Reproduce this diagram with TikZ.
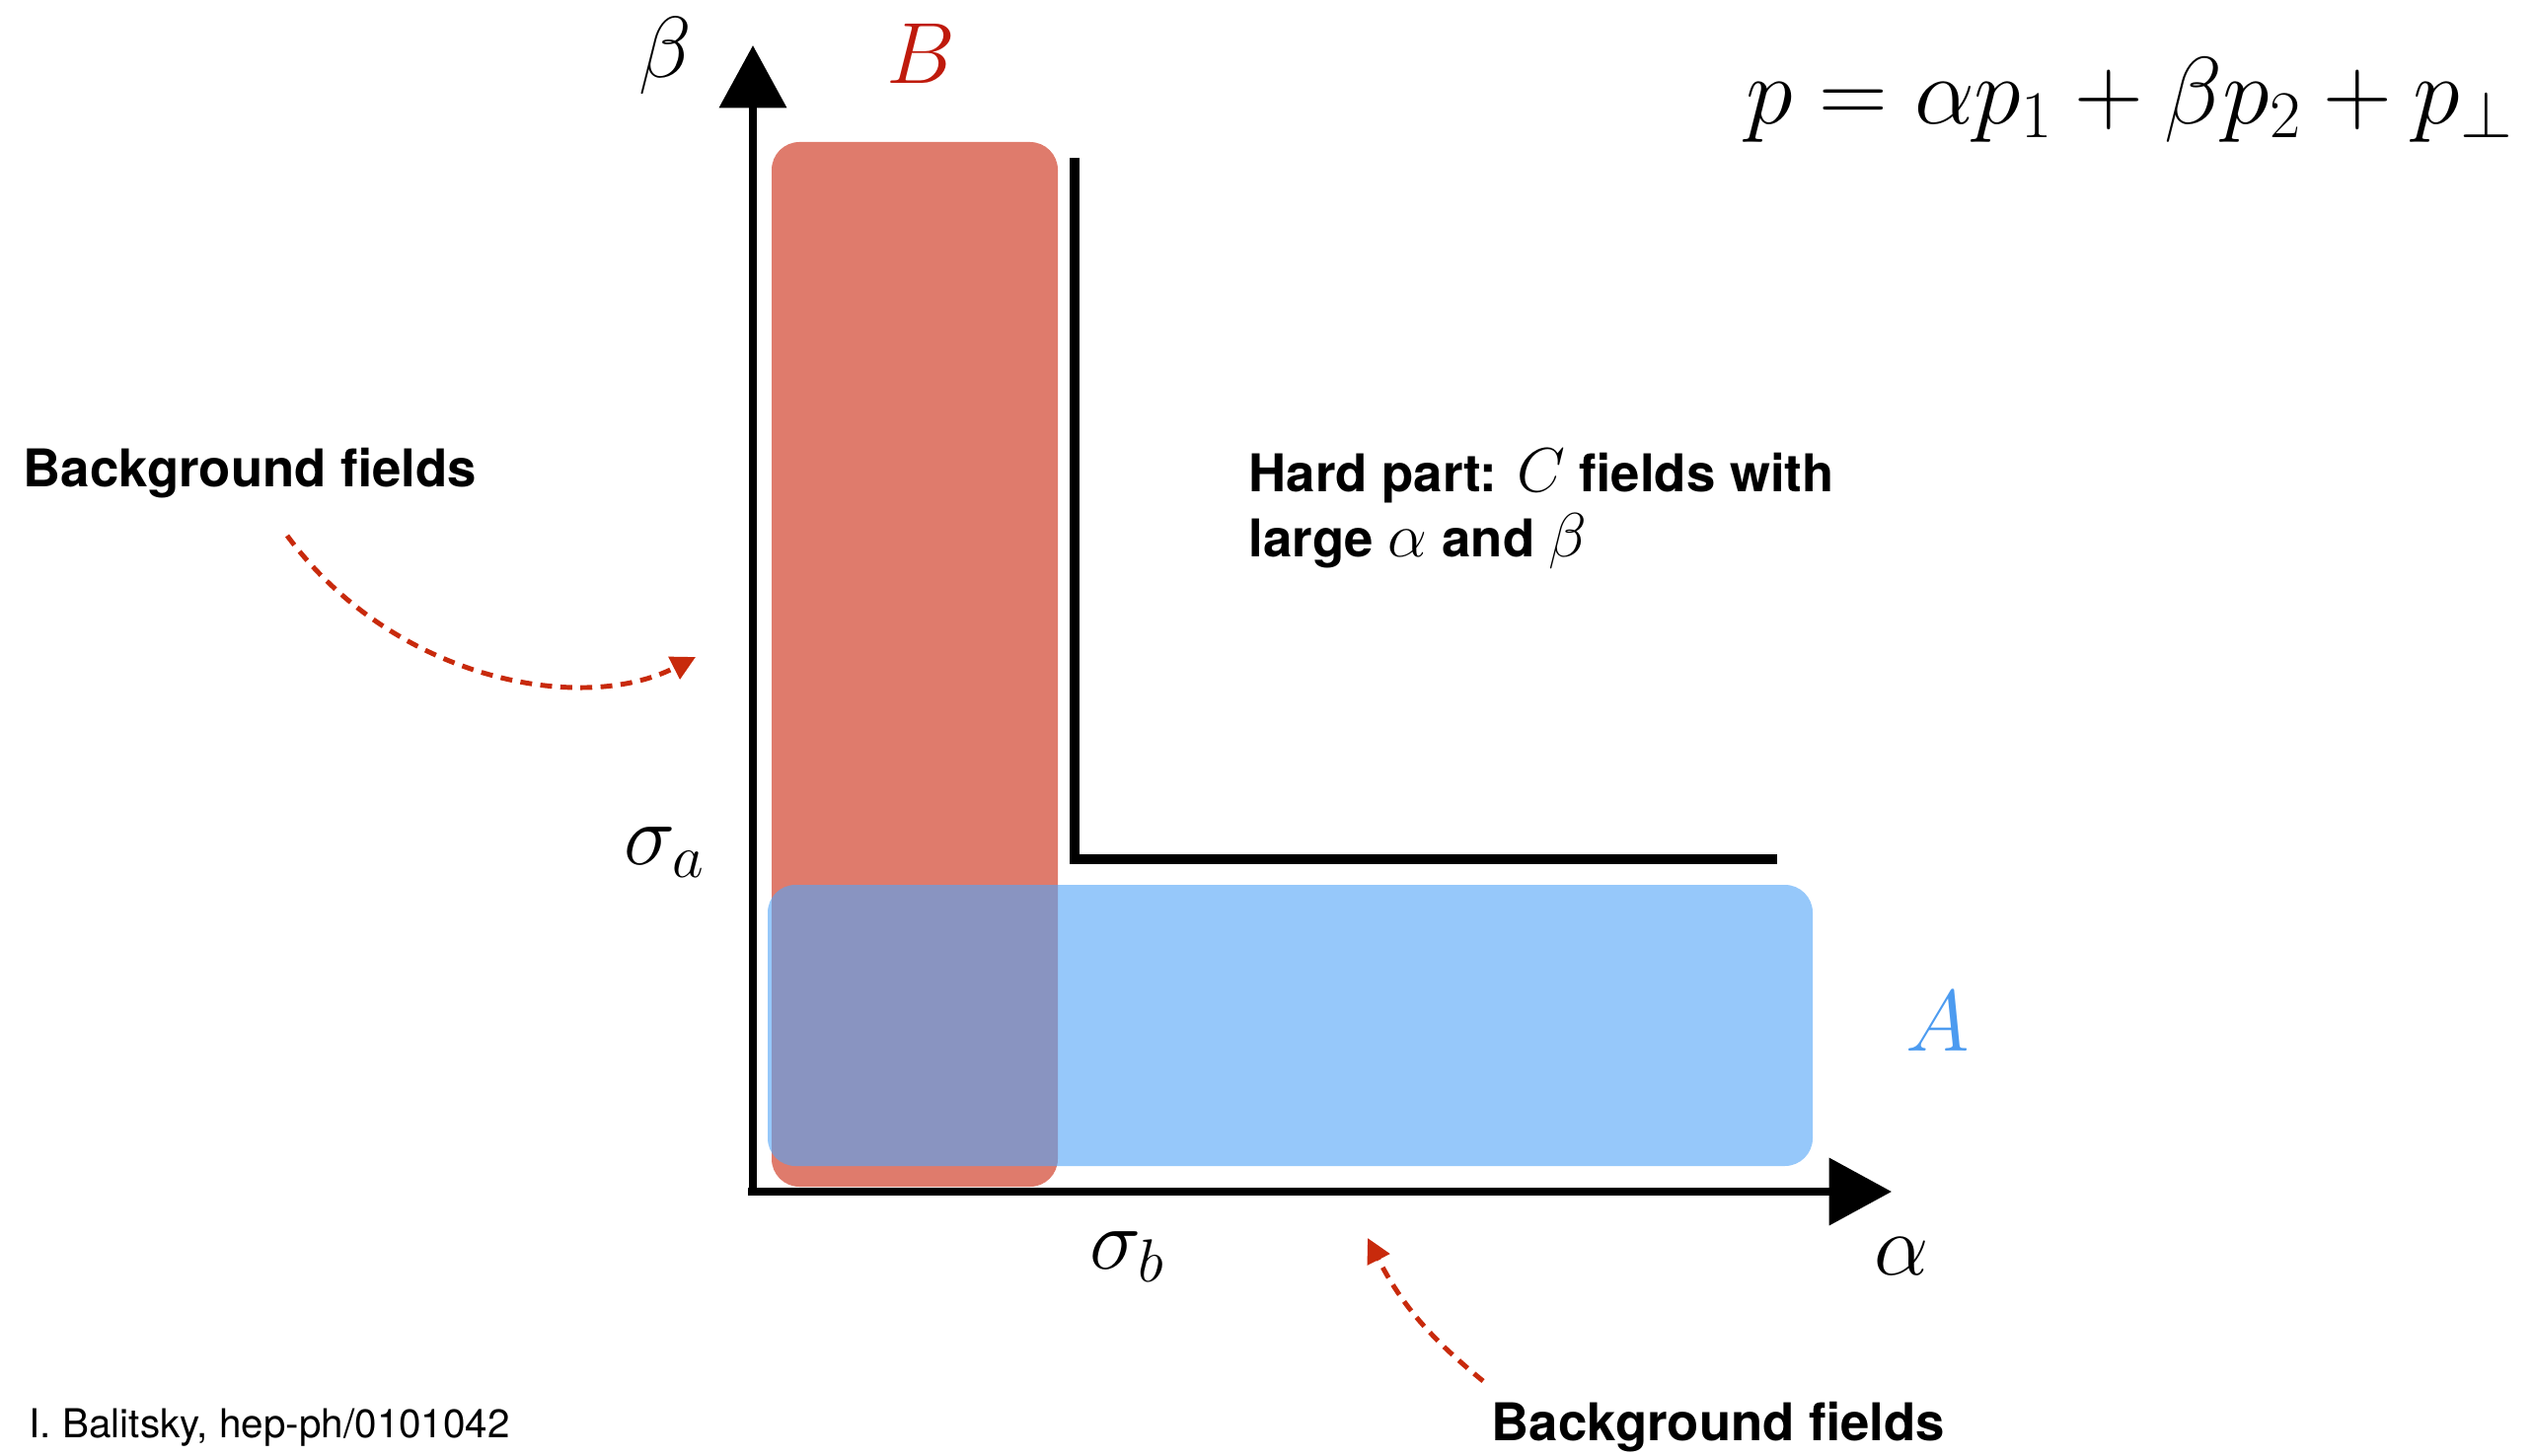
\documentclass[tikz,border=0pt]{standalone}
\usepackage{fix-cm}
\usepackage[no-math]{fontspec}
\usepackage{xcolor}
\usetikzlibrary{arrows.meta,calc,positioning}
\newfontfamily\labelsans{TeX Gyre Heros}
\newcommand{\txtmath}[1]{{\fontsize{18}{18.5}\selectfont$#1$}}
\definecolor{fieldred}{HTML}{DF7B6C}
\definecolor{fieldblue}{HTML}{53A5F7}
\definecolor{labred}{HTML}{BF1A0C}
\definecolor{labblue}{HTML}{4C9BF0}
\definecolor{arrowred}{HTML}{C82A0C}

\begin{document}
\begin{tikzpicture}[x=0.01cm,y=-0.01cm,
  axis/.style={line width=2.2pt,-{Triangle[length=18pt,width=19pt]}},
  hard/.style={line width=2.8pt},
  region/.style={rounded corners=8pt,fill=#1},
  lab/.style={font=\fontsize{25}{30}\selectfont},
  txt/.style={font=\labelsans\bfseries\fontsize{15}{18.5}\selectfont,align=left,anchor=west,inner sep=0pt},
  bgarrow/.style={arrowred,line width=1.4pt,dash pattern=on 3.4pt off 2.4pt,
                  -{Triangle[length=7pt,width=7pt]}}]
  \useasboundingbox (0,0) rectangle (2567,1476);
  % hard region boundary
  \coordinate (ltop) at (1089,160);
  \coordinate (lcorner) at (1089,871);
  \coordinate (lend) at (1801,871);
  \draw[hard] (ltop) -- (lcorner) -- (lend);
  % soft fields
  \fill[region=fieldred] (782,144) rectangle (1072,1203);
  \fill[region=fieldblue,fill opacity=0.61] (778,897) rectangle (1837,1182);
  % axes
  \coordinate (orig) at (763,1208);
  \coordinate (ytip) at (763,46);
  \coordinate (xtip) at (1917,1208);
  \draw[axis] ($(orig)+(0,4)$) -- (ytip);
  \draw[axis] ($(orig)+(-5,0)$) -- (xtip);
  \node[lab] (beta) at (674,57) {$\beta$};
  \node[lab] (alpha) at (1927,1274) {$\alpha$};
  \node[lab] (siga) at (674,864) {$\sigma_a$};
  \node[lab] (sigb) at (1143,1274) {$\sigma_b$};
  \node[lab,labred] (fb) at (933,54) {$B$};
  \node[lab,labblue] (fa) at (1964,1035) {$A$};
  \node[font=\fontsize{27.5}{33}\selectfont,anchor=east] (mom) at (2560,101)
    {$p=\alpha p_1+\beta p_2+p_\perp$};
  \node[txt] (hard) at (1265,516) {Hard part: \txtmath{C} fields with\\large \txtmath{\alpha} and \txtmath{\beta}};
  \node[txt] (bgleft) at (23,480) {Background fields};
  \node[txt] (bgbot) at (1511,1447) {Background fields};
  \node[txt,font=\labelsans\fontsize{11.5}{14}\selectfont] (cite) at (29,1447) {I. Balitsky, hep-ph/0101042};
  % pointers to the background fields
  \coordinate (bl0) at (291,543);
  \coordinate (bl1) at (705,666);
  \coordinate (bb0) at (1503,1400);
  \coordinate (bb1) at (1386,1255);
  \draw[bgarrow] (bl0) .. controls (400,690) and (590,725) .. (bl1);
  \draw[bgarrow] (bb0) to[bend left=12] (bb1);
\end{tikzpicture}
\end{document}
